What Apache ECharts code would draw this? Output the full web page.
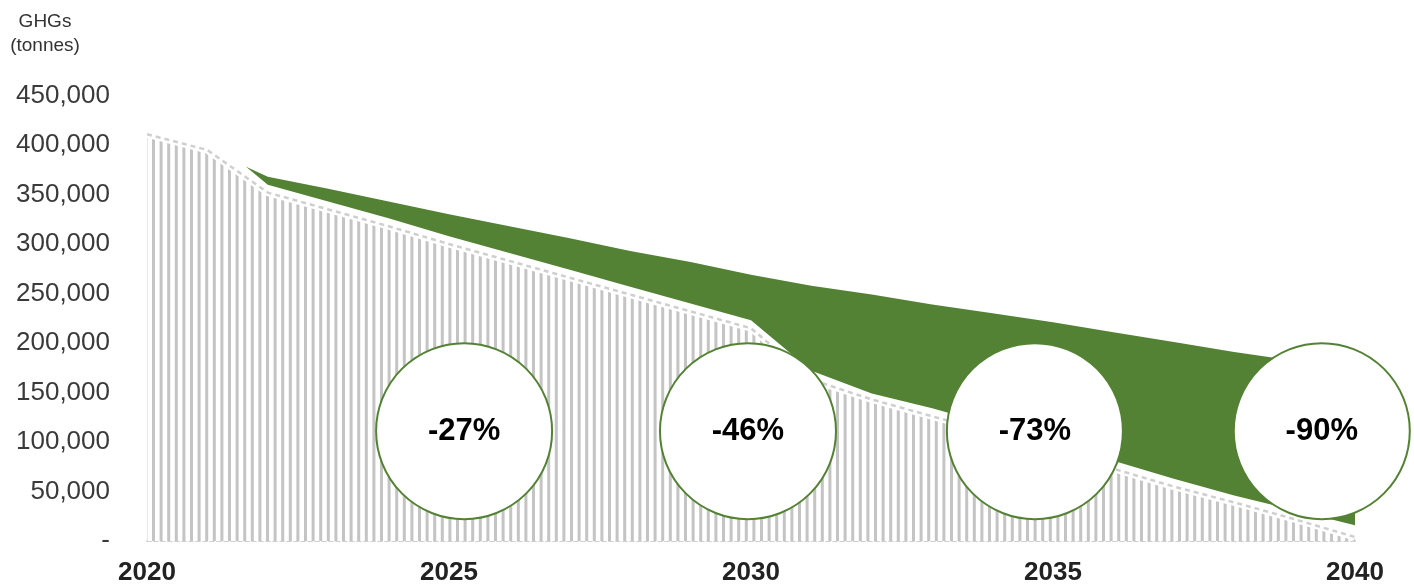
<!DOCTYPE html>
<html>
<head>
<meta charset="utf-8">
<script src="https://cdn.jsdelivr.net/npm/echarts@6/dist/echarts.min.js"></script>
<style>
html,body{margin:0;padding:0;background:#fff;}
#chart{width:1414px;height:586px;}
</style>
</head>
<body>
<div id="chart"></div>
<script>
// ---- data ----
const years = [2020,2021,2022,2023,2024,2025,2026,2027,2028,2029,2030,2031,2032,2033,2034,2035,2036,2037,2038,2039,2040];
const remaining = [411000,395000,352000,335000,318000,300000,283000,266000,249000,232000,215000,163000,143000,126000,109000,91000,73000,55000,39000,22000,4000];
const reductionYears = [2021.64,2022,2023,2024,2025,2026,2027,2028,2029,2030,2031,2032,2033,2034,2035,2036,2037,2038,2039,2040];
const reductionTop = [378000,368000,356000,343000,330000,318000,306000,293000,282000,269000,258000,249000,239000,230000,221000,211000,201000,191000,182000,172000];
const reductionBottom = [378000,360000,343000,326000,308000,291000,274000,257000,240000,223000,172000,149000,134000,117000,99000,81000,63000,46000,31000,16000];
const badgeYears = [2025.25,2029.95,2034.7,2039.45];
const badgeValue = 111000;
const badgeLabels = ['-27%','-46%','-73%','-90%'];
const yTicks = [0,50000,100000,150000,200000,250000,300000,350000,400000,450000];
const xTicks = [2020,2025,2030,2035,2040];
const axisTitle = ['GHGs', '(tonnes)'];

// ---- build ----
const zip = (xs, ys) => xs.map((x, i) => [x, ys[i]]);
const greySeries = zip(years, remaining);
const topSeries = zip(reductionYears, reductionTop);
// mask: follows pathway before green start, then the green lower edge
const maskSeries = zip(years.slice(0, 2), remaining.slice(0, 2)).concat(zip(reductionYears, reductionBottom));

// hatch pattern
const pat = document.createElement('canvas');
pat.width = 38; pat.height = 10;
const pc = pat.getContext('2d');
pc.fillStyle = '#c4c4c4';
for (let i = 0; i < 5; i++) pc.fillRect(i * 7.6, 0, 3, 10);

const GREEN = '#548235';
const FONT = '"Liberation Sans", Arial, sans-serif';
const chart = echarts.init(document.getElementById('chart'), null, {renderer: 'canvas'});
chart.setOption({
  animation: false,
  backgroundColor: '#fff',
  grid: {left: 147, right: 59, top: 95.6, bottom: 44, containLabel: false},
  graphic: [
    {type: 'text', x: 45, y: 22,
     style: {text: axisTitle[0], font: '19px ' + FONT, fill: '#333', align: 'center', verticalAlign: 'middle', textAlign: 'center', textVerticalAlign: 'middle'}},
    {type: 'text', x: 45, y: 46,
     style: {text: axisTitle[1], font: '19px ' + FONT, fill: '#333', align: 'center', verticalAlign: 'middle', textAlign: 'center', textVerticalAlign: 'middle'}}
  ],
  xAxis: {
    type: 'value', min: xTicks[0], max: xTicks[xTicks.length - 1], interval: 5,
    axisLine: {show: true, lineStyle: {color: '#d0d0d0', width: 2, type: [4, 3]}},
    axisTick: {show: false},
    splitLine: {show: false},
    axisLabel: {
      margin: 19, color: '#222', fontSize: 26, fontWeight: 'bold', fontFamily: FONT,
      formatter: v => String(v)
    }
  },
  yAxis: {
    type: 'value', min: yTicks[0], max: yTicks[yTicks.length - 1], interval: 50000,
    axisLine: {show: false}, axisTick: {show: false}, splitLine: {show: false},
    axisLabel: {
      margin: 37, color: '#3a3a3a', fontSize: 26, fontFamily: FONT, padding: [12, 0, 0, 0],
      formatter: v => v === 0 ? '-' : v.toLocaleString('en-US')
    }
  },
  series: [
    {
      name: 'reduction', type: 'line', data: topSeries, symbol: 'none', z: 1,
      lineStyle: {width: 0}, areaStyle: {color: GREEN, opacity: 1, origin: 'start'}
    },
    {
      name: 'mask', type: 'line', data: maskSeries, symbol: 'none', z: 2,
      lineStyle: {width: 0}, areaStyle: {color: '#ffffff', opacity: 1, origin: 'start'}
    },
    {
      name: 'pathway', type: 'line', data: greySeries, symbol: 'none', z: 3,
      lineStyle: {color: '#ffffff', width: 7},
      areaStyle: {color: {image: pat, repeat: 'repeat'}, opacity: 1, origin: 'start'}
    },
    {
      name: 'pathwayEdge', type: 'line', data: greySeries, symbol: 'none', z: 4,
      lineStyle: {color: '#cfcfcf', width: 2.5, type: [5, 4]}
    },
    {
      name: 'badges', type: 'scatter', z: 10,
      data: badgeYears.map((x, i) => ({value: [x, badgeValue], label: {formatter: badgeLabels[i]}})),
      symbol: 'circle', symbolSize: 176,
      itemStyle: {color: '#ffffff', borderColor: GREEN, borderWidth: 2, opacity: 1},
      label: {show: true, position: 'inside', color: '#000', fontSize: 31, fontWeight: 'bold', fontFamily: FONT}
    }
  ]
});
</script>
</body>
</html>
